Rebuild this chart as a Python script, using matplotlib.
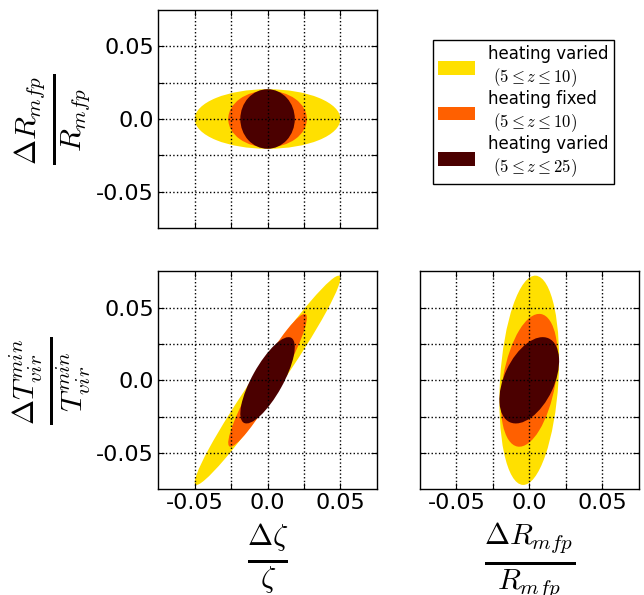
import matplotlib
matplotlib.use("Agg")
import matplotlib.pyplot as plt
import numpy as np
from matplotlib.patches import Ellipse, Patch
from matplotlib.ticker import FuncFormatter

plt.rcParams['mathtext.fontset'] = 'cm'

# parameters: zeta, R_mfp, T_vir^min
labels = [r'$\genfrac{}{}{3.5}{1}{\Delta\zeta}{\zeta}$',
          r'$\genfrac{}{}{3.5}{1}{\Delta R_{mfp}}{R_{mfp}}$',
          r'$\genfrac{}{}{3.5}{1}{\Delta T_{vir}^{min}}{T_{vir}^{min}}$']

series = ["heating varied\n $(5 \\leq z \\leq 10)$",
          "heating fixed\n $(5 \\leq z \\leq 10)$",
          "heating varied\n $(5 \\leq z \\leq 25)$"]
colors = ['#ffe000', '#ff6000', '#4b0000']

# extent of each fractional error (zeta, R_mfp, T_vir)
err_varied_10 = [0.050, 0.0205, 0.072]
err_fixed_10 = [0.027, 0.0195, 0.0457]
err_varied_25 = [0.0187, 0.0205, 0.0297]
errors = [err_varied_10, err_fixed_10, err_varied_25]

# correlation coefficients: (zeta,R), (zeta,T), (R,T)
corr_varied_10 = [0.0, 0.975, 0.20]
corr_fixed_10 = [0.0, 0.94, 0.35]
corr_varied_25 = [0.0, 0.77, 0.45]
corrs = [corr_varied_10, corr_fixed_10, corr_varied_25]
pair_index = {(0, 1): 0, (0, 2): 1, (1, 2): 2}


def ellipse(ex, ey, rho, color):
    cov = np.array([[ex**2, rho * ex * ey], [rho * ex * ey, ey**2]])
    vals, vecs = np.linalg.eigh(cov)
    order = vals.argsort()[::-1]
    vals, vecs = vals[order], vecs[:, order]
    angle = np.degrees(np.arctan2(vecs[1, 0], vecs[0, 0]))
    return Ellipse((0, 0), 2 * np.sqrt(vals[0]), 2 * np.sqrt(vals[1]),
                   angle=angle, facecolor=color, edgecolor='none')


fig = plt.figure(figsize=(6.44, 5.95), dpi=100)
W, H = 644.0, 595.0
w, h = 218.5 / W, 218.0 / H
axes = {
    (0, 1): fig.add_axes([158.3 / W, 1 - 228 / H, w, h]),
    (0, 2): fig.add_axes([158.3 / W, 1 - 489.3 / H, w, h]),
    (1, 2): fig.add_axes([420 / W, 1 - 489.3 / H, w, h]),
}

ticks = np.arange(-0.05, 0.0501, 0.025)


def fmt(v, pos):
    if abs(round(v / 0.05) * 0.05 - v) > 1e-9:
        return ''
    if abs(v) < 1e-9:
        return '0.0'
    return '%.2f' % v


for (i, j), ax in axes.items():
    k = pair_index[(i, j)]
    for s in range(3):
        ax.add_patch(ellipse(errors[s][i], errors[s][j], corrs[s][k], colors[s]))
    ax.set_xlim(-0.075, 0.075)
    ax.set_ylim(-0.075, 0.075)
    ax.set_xticks(ticks)
    ax.set_yticks(ticks)
    ax.xaxis.set_major_formatter(FuncFormatter(fmt))
    ax.yaxis.set_major_formatter(FuncFormatter(fmt))
    ax.tick_params(direction='in', top=True, right=True, length=4,
                   labelsize=16, pad=3)
    ax.set_axisbelow(False)
    ax.grid(True, linestyle=':', color='black', linewidth=1)
    for sp in ax.spines.values():
        sp.set_linewidth(1)

axes[(0, 1)].tick_params(labelbottom=False)
axes[(1, 2)].tick_params(labelleft=False)

axes[(0, 1)].set_ylabel(labels[1], fontsize=31)
axes[(0, 2)].set_ylabel(labels[2], fontsize=31)
axes[(0, 2)].set_xlabel(labels[0], fontsize=31)
axes[(1, 2)].set_xlabel(labels[1], fontsize=31)
for ax in (axes[(0, 1)], axes[(0, 2)]):
    ax.yaxis.set_label_coords(-0.30, 0.5)
for ax in (axes[(0, 2)], axes[(1, 2)]):
    ax.xaxis.set_label_coords(0.5, -0.15)

handles = [Patch(facecolor=c, edgecolor='none') for c in colors]
fig.legend(handles, series, loc='upper left',
           bbox_to_anchor=(433.3 / W, 1 - 40 / H), fontsize=12,
           fancybox=False, edgecolor='black', framealpha=1,
           borderaxespad=0, borderpad=0.3, handlelength=2.2,
           handleheight=0.9, labelspacing=0.08)

fig.savefig('out.png', dpi=100)
